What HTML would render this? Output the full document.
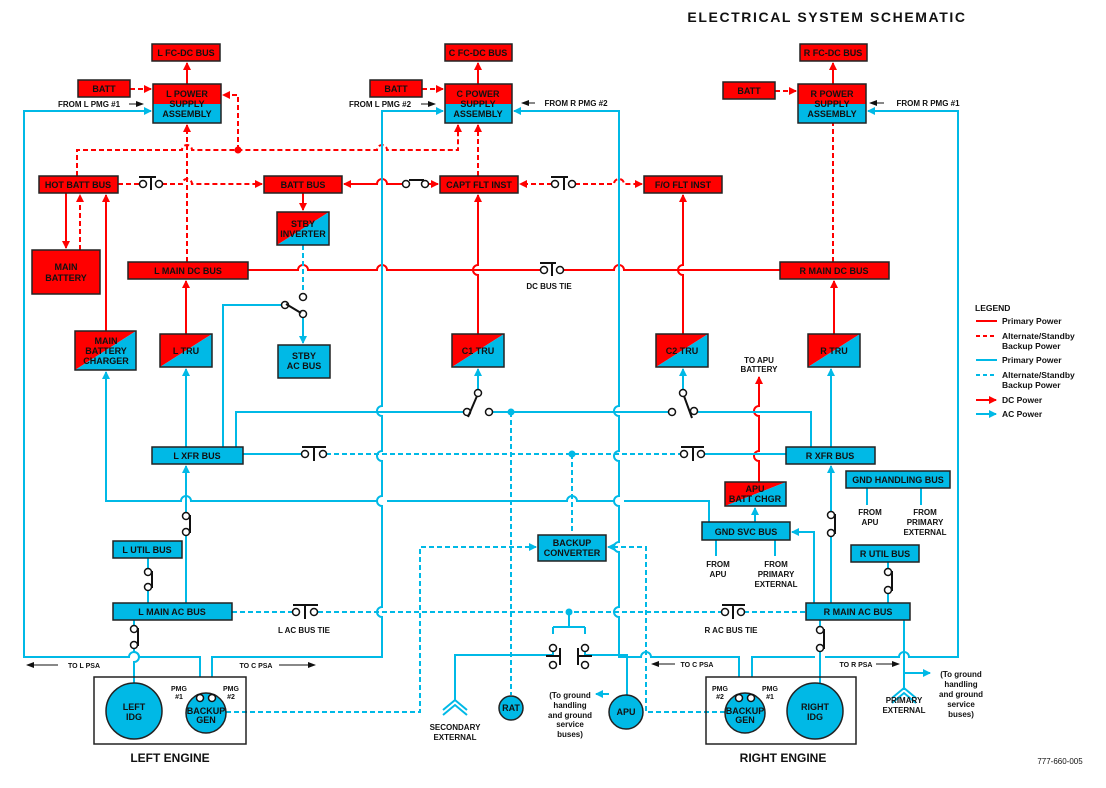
<!DOCTYPE html>
<html><head><meta charset="utf-8"><style>
html,body{margin:0;padding:0;background:#fff}
svg{display:block}
text{font-family:"Liberation Sans",Arial,sans-serif;font-weight:bold;fill:#111}
.bl{font-size:9px;text-anchor:middle}
.sm{font-size:8px;text-anchor:middle}
.r{stroke:#ff0000;stroke-width:2;fill:none}
.rd{stroke:#ff0000;stroke-width:2;fill:none;stroke-dasharray:5,3}
.b{stroke:#00b9e6;stroke-width:2;fill:none}
.bd{stroke:#00b9e6;stroke-width:2;fill:none;stroke-dasharray:5,3}
.sw{stroke:#111;stroke-width:1.5;fill:#fff}
.swl{stroke:#111;stroke-width:2;fill:none}
.rb{fill:#ff0000;stroke:#222;stroke-width:1.5}
.bb{fill:#00b9e6;stroke:#222;stroke-width:1.5}
</style></head><body>
<svg width="1106" height="788" viewBox="0 0 1106 788" xmlns="http://www.w3.org/2000/svg">
<defs>
<marker id="ar" markerWidth="8" markerHeight="8" refX="7" refY="4" orient="auto" markerUnits="userSpaceOnUse"><path d="M0,0 L8,4 L0,8 z" fill="#ff0000"/></marker>
<marker id="ab" markerWidth="8" markerHeight="8" refX="7" refY="4" orient="auto" markerUnits="userSpaceOnUse"><path d="M0,0 L8,4 L0,8 z" fill="#00b9e6"/></marker>
<marker id="ak" markerWidth="8" markerHeight="6" refX="7" refY="3" orient="auto" markerUnits="userSpaceOnUse"><path d="M0,0 L8,3 L0,6 z" fill="#111"/></marker>
</defs>

<text x="827" y="22" style="font-size:14px;text-anchor:middle;letter-spacing:1.6px">ELECTRICAL SYSTEM SCHEMATIC</text>

<!-- ===== RED LINES ===== -->
<line class="r" x1="187" y1="84" x2="187" y2="63" marker-end="url(#ar)"/>
<line class="r" x1="478" y1="84" x2="478" y2="63" marker-end="url(#ar)"/>
<line class="r" x1="833" y1="84" x2="833" y2="63" marker-end="url(#ar)"/>
<line class="rd" x1="130" y1="89" x2="151" y2="89" marker-end="url(#ar)"/>
<line class="rd" x1="422" y1="89" x2="443" y2="89" marker-end="url(#ar)"/>
<line class="rd" x1="775" y1="91" x2="796" y2="91" marker-end="url(#ar)"/>
<line class="rd" x1="187" y1="262" x2="187" y2="125" marker-end="url(#ar)"/>
<path class="rd" d="M77,176 V150 H182 A5,5 0 0 1 192,150 H377 A5,5 0 0 1 387,150 H458 V125" marker-end="url(#ar)"/>
<circle cx="238" cy="150" r="3.5" fill="#ff0000"/>
<path class="rd" d="M238,150 V95 H223" marker-end="url(#ar)"/>
<line class="r" x1="66" y1="193" x2="66" y2="248" marker-end="url(#ar)"/>
<line class="rd" x1="80" y1="250" x2="80" y2="195" marker-end="url(#ar)"/>
<line class="r" x1="106" y1="331" x2="106" y2="195" marker-end="url(#ar)"/>
<path class="rd" d="M118,184 H140 M162,184 H182 A5,5 0 0 1 192,184 H262" marker-end="url(#ar)"/>
<path class="r" d="M344,184 H377 A5,5 0 0 1 387,184 H403"/>
<line class="r" x1="360" y1="184" x2="344" y2="184" marker-end="url(#ar)"/>
<line class="r" x1="428" y1="184" x2="438" y2="184" marker-end="url(#ar)"/>
<path class="swl" d="M409,180 H424"/>
<line class="rd" x1="552" y1="184" x2="520" y2="184" marker-end="url(#ar)"/>
<path class="rd" d="M575,184 H614 A5,5 0 0 1 624,184 H642" marker-end="url(#ar)"/>
<line class="r" x1="303" y1="193" x2="303" y2="210" marker-end="url(#ar)"/>
<line class="rd" x1="478" y1="176" x2="478" y2="125" marker-end="url(#ar)"/>
<path class="r" d="M478,334 V275 A5,5 0 0 1 478,265 V195" marker-end="url(#ar)"/>
<path class="r" d="M683,334 V275 A5,5 0 0 1 683,265 V195" marker-end="url(#ar)"/>
<path class="r" d="M248,270 H298 A5,5 0 0 1 308,270 H377 A5,5 0 0 1 387,270 H541 M559,270 H614 A5,5 0 0 1 624,270 H780"/>
<line class="r" x1="186" y1="334" x2="186" y2="281" marker-end="url(#ar)"/>
<line class="r" x1="834" y1="334" x2="834" y2="281" marker-end="url(#ar)"/>
<line class="rd" x1="833" y1="262" x2="833" y2="123"/>
<path class="r" d="M759,482 V461 A5,5 0 0 1 759,451 V416 A5,5 0 0 1 759,406 V377" marker-end="url(#ar)"/>

<!-- ===== BLUE LINES ===== -->
<path class="b" d="M200,677 V657 H139 A5,5 0 0 0 129,657 H24 V111 H151" marker-end="url(#ab)"/>
<path class="b" d="M212,677 V657 H382 V617 A5,5 0 0 1 382,607 V506 A5,5 0 0 1 382,496 V461 A5,5 0 0 1 382,451 V416 A5,5 0 0 1 382,406 V111 H443" marker-end="url(#ab)"/>
<path class="b" d="M739,677 V657 H651 A5,5 0 0 0 641,657 H619 V617 A5,5 0 0 1 619,607 V552 A5,5 0 0 1 619,542 V506 A5,5 0 0 1 619,496 V461 A5,5 0 0 1 619,451 V416 A5,5 0 0 1 619,406 V111 H514" marker-end="url(#ab)"/>
<path class="b" d="M752,677 V657 H815 M825,657 H899 A5,5 0 0 1 909,657 H958 V111 H868" marker-end="url(#ab)"/>
<line class="b" x1="186" y1="447" x2="186" y2="369" marker-end="url(#ab)"/>
<path class="b" d="M709,522 V501 H624 M614,501 H577 A5,5 0 0 0 567,501 H387 M377,501 H191 A5,5 0 0 0 181,501 H106 V372" marker-end="url(#ab)"/>
<path class="b" d="M223,447 V305 H285"/>
<line class="b" x1="303" y1="316" x2="303" y2="343" marker-end="url(#ab)"/>
<line class="bd" x1="303" y1="245" x2="303" y2="294"/>
<path class="b" d="M236,447 V412 H466 M490,412 H672 M695,412 H811 V447"/>
<circle cx="511" cy="412" r="3.5" fill="#00b9e6"/>
<line class="b" x1="478" y1="390" x2="478" y2="369" marker-end="url(#ab)"/>
<line class="b" x1="683" y1="390" x2="683" y2="369" marker-end="url(#ab)"/>
<line class="b" x1="831" y1="447" x2="831" y2="369" marker-end="url(#ab)"/>
<path class="b" d="M243,454 H302"/>
<path class="bd" d="M326,454 H681"/>
<path class="b" d="M703,454 H786"/>
<circle cx="572" cy="454" r="3.5" fill="#00b9e6"/>
<line class="bd" x1="511" y1="412" x2="511" y2="695"/>
<line class="bd" x1="572" y1="454" x2="572" y2="534"/>
<path class="b" d="M186,603 V530 M186,513 V466" marker-end="url(#ab)"/>
<path class="b" d="M148,558 V569 M148,587 V603"/>
<path class="b" d="M134,620 V627 M134,645 V652 A5,5 0 0 1 134,662 V683"/>
<path class="bd" d="M232,612 H293 M318,612 H722 M744,612 H806"/>
<circle cx="569" cy="612" r="3.5" fill="#00b9e6"/>
<path class="b" d="M569,612 V627 M553,627 H585 M553,627 V634 M585,627 V634"/>
<path class="b" d="M553,652 V655 H455 V700"/>
<path class="b" d="M585,652 V655 H627 V695"/>
<line class="b" x1="609" y1="694" x2="596" y2="694" marker-end="url(#ab)"/>
<path class="bd" d="M226,712 H420 V547 H536" marker-end="url(#ab)"/>
<path class="bd" d="M725,712 H646 V547 H608" marker-end="url(#ab)"/>
<path class="b" d="M831,603 V530 M831,513 V466" marker-end="url(#ab)"/>
<path class="b" d="M814,603 V532 H792" marker-end="url(#ab)"/>
<path class="b" d="M888,562 V569 M888,587 V603"/>
<path class="b" d="M820,620 V627 M820,645 V683"/>
<line class="b" x1="755" y1="522" x2="755" y2="508" marker-end="url(#ab)"/>
<path class="b" d="M716,540 V556 M775,540 V556 M867,488 V505 M921,488 V505"/>
<path class="b" d="M904,620 V690"/>
<line class="b" x1="904" y1="673" x2="930" y2="673" marker-end="url(#ab)"/>
<path class="b" d="M892,698 L904,688 L916,698 M892,703 L904,693 L916,703"/>
<path class="b" d="M443,710 L455,700 L467,710 M443,715 L455,705 L467,715"/>

<g>
<circle class="sw" cx="143" cy="184" r="3.5"/><circle class="sw" cx="159" cy="184" r="3.5"/><path class="swl" d="M139,177 H156 M151,177 V190"/>
<circle class="sw" cx="406" cy="184" r="3.5"/><circle class="sw" cx="425" cy="184" r="3.5"/>
<circle class="sw" cx="555" cy="184" r="3.5"/><circle class="sw" cx="572" cy="184" r="3.5"/><path class="swl" d="M551,177 H568 M564,177 V190"/>
<circle class="sw" cx="544" cy="270" r="3.5"/><circle class="sw" cx="560" cy="270" r="3.5"/><path class="swl" d="M540,263 H556 M552,263 V276"/>
<circle class="sw" cx="303" cy="297" r="3.5"/><circle class="sw" cx="285" cy="305" r="3.5"/><circle class="sw" cx="303" cy="314" r="3.5"/><path class="swl" d="M286,304 L301,313"/>
<circle class="sw" cx="478" cy="393" r="3.5"/><circle class="sw" cx="467" cy="412" r="3.5"/><circle class="sw" cx="489" cy="412" r="3.5"/><path class="swl" d="M468,417 L477,396"/>
<circle class="sw" cx="683" cy="393" r="3.5"/><circle class="sw" cx="672" cy="412" r="3.5"/><circle class="sw" cx="694" cy="411" r="3.5"/><path class="swl" d="M684,396 L692,418"/>
<circle class="sw" cx="305" cy="454" r="3.5"/><circle class="sw" cx="323" cy="454" r="3.5"/><path class="swl" d="M302,447 H326 M314,447 V461"/>
<circle class="sw" cx="684" cy="454" r="3.5"/><circle class="sw" cx="701" cy="454" r="3.5"/><path class="swl" d="M681,447 H704 M693,447 V461"/>
<circle class="sw" cx="186" cy="516" r="3.5"/><circle class="sw" cx="186" cy="532" r="3.5"/><path class="swl" d="M190,515 V533"/>
<circle class="sw" cx="148" cy="572" r="3.5"/><circle class="sw" cx="148" cy="587" r="3.5"/><path class="swl" d="M152,571 V588"/>
<circle class="sw" cx="134" cy="629" r="3.5"/><circle class="sw" cx="134" cy="645" r="3.5"/><path class="swl" d="M138,628 V646"/>
<circle class="sw" cx="296" cy="612" r="3.5"/><circle class="sw" cx="314" cy="612" r="3.5"/><path class="swl" d="M293,605 H318 M305,605 V619"/>
<circle class="sw" cx="725" cy="612" r="3.5"/><circle class="sw" cx="741" cy="612" r="3.5"/><path class="swl" d="M722,605 H745 M733,605 V619"/>
<circle class="sw" cx="553" cy="648" r="3.5"/><circle class="sw" cx="553" cy="665" r="3.5"/><path class="swl" d="M546,656 H560 M560,648 V665"/>
<circle class="sw" cx="585" cy="648" r="3.5"/><circle class="sw" cx="585" cy="665" r="3.5"/><path class="swl" d="M578,648 V665 M578,656 H592"/>
<circle class="sw" cx="831" cy="515" r="3.5"/><circle class="sw" cx="831" cy="533" r="3.5"/><path class="swl" d="M835,514 V534"/>
<circle class="sw" cx="888" cy="572" r="3.5"/><circle class="sw" cx="888" cy="590" r="3.5"/><path class="swl" d="M892,571 V591"/>
<circle class="sw" cx="820" cy="630" r="3.5"/><circle class="sw" cx="820" cy="648" r="3.5"/><path class="swl" d="M824,629 V649"/>
</g>

<rect class="rb" x="152" y="44" width="68" height="17"/><text class="bl" x="186" y="56">L FC-DC BUS</text>
<rect class="rb" x="445" y="44" width="67" height="17"/><text class="bl" x="478" y="56">C FC-DC BUS</text>
<rect class="rb" x="800" y="44" width="67" height="17"/><text class="bl" x="833" y="56">R FC-DC BUS</text>
<rect class="rb" x="78" y="80" width="52" height="17"/><text class="bl" x="104" y="92">BATT</text>
<rect class="rb" x="370" y="80" width="52" height="17"/><text class="bl" x="396" y="92">BATT</text>
<rect class="rb" x="723" y="82" width="52" height="17"/><text class="bl" x="749" y="94">BATT</text>
<g>
<rect x="153" y="84" width="68" height="20" fill="#ff0000"/><rect x="153" y="104" width="68" height="19" fill="#00b9e6"/><rect x="153" y="84" width="68" height="39" fill="none" stroke="#222" stroke-width="1.5"/>
<text class="bl" x="187" y="97">L POWER</text><text class="bl" x="187" y="107">SUPPLY</text><text class="bl" x="187" y="117">ASSEMBLY</text>
<rect x="445" y="84" width="67" height="20" fill="#ff0000"/><rect x="445" y="104" width="67" height="19" fill="#00b9e6"/><rect x="445" y="84" width="67" height="39" fill="none" stroke="#222" stroke-width="1.5"/>
<text class="bl" x="478" y="97">C POWER</text><text class="bl" x="478" y="107">SUPPLY</text><text class="bl" x="478" y="117">ASSEMBLY</text>
<rect x="798" y="84" width="68" height="20" fill="#ff0000"/><rect x="798" y="104" width="68" height="19" fill="#00b9e6"/><rect x="798" y="84" width="68" height="39" fill="none" stroke="#222" stroke-width="1.5"/>
<text class="bl" x="832" y="97">R POWER</text><text class="bl" x="832" y="107">SUPPLY</text><text class="bl" x="832" y="117">ASSEMBLY</text>
</g>
<text class="sm" x="89" y="107">FROM L PMG #1</text><line x1="129" y1="104" x2="143" y2="104" stroke="#111" stroke-width="1" marker-end="url(#ak)"/>
<text class="sm" x="380" y="107">FROM L PMG #2</text><line x1="421" y1="104" x2="435" y2="104" stroke="#111" stroke-width="1" marker-end="url(#ak)"/>
<line x1="535" y1="103" x2="522" y2="103" stroke="#111" stroke-width="1" marker-end="url(#ak)"/><text class="sm" x="576" y="106">FROM R PMG #2</text>
<line x1="884" y1="103" x2="870" y2="103" stroke="#111" stroke-width="1" marker-end="url(#ak)"/><text class="sm" x="928" y="106">FROM R PMG #1</text>

<rect class="rb" x="39" y="176" width="79" height="17"/><text class="bl" x="78" y="188">HOT BATT BUS</text>
<rect class="rb" x="264" y="176" width="78" height="17"/><text class="bl" x="303" y="188">BATT BUS</text>
<rect class="rb" x="440" y="176" width="78" height="17"/><text class="bl" x="479" y="188">CAPT FLT INST</text>
<rect class="rb" x="644" y="176" width="78" height="17"/><text class="bl" x="683" y="188">F/O  FLT INST</text>
<rect class="rb" x="32" y="250" width="68" height="44"/><text class="bl" x="66" y="270">MAIN</text><text class="bl" x="66" y="281">BATTERY</text>
<rect class="rb" x="128" y="262" width="120" height="17"/><text class="bl" x="188" y="274">L MAIN DC BUS</text>
<rect class="rb" x="780" y="262" width="109" height="17"/><text class="bl" x="834" y="274">R MAIN DC BUS</text>
<text class="sm" x="549" y="289">DC BUS TIE</text>

<g>
<polygon points="277,212 329,212 277,245" fill="#ff0000"/><polygon points="329,212 329,245 277,245" fill="#00b9e6"/><rect x="277" y="212" width="52" height="33" fill="none" stroke="#222" stroke-width="1.5"/>
<text class="bl" x="303" y="227">STBY</text><text class="bl" x="303" y="237">INVERTER</text>
<polygon points="75,331 136,331 75,370" fill="#ff0000"/><polygon points="136,331 136,370 75,370" fill="#00b9e6"/><rect x="75" y="331" width="61" height="39" fill="none" stroke="#222" stroke-width="1.5"/>
<text class="bl" x="106" y="344">MAIN</text><text class="bl" x="106" y="354">BATTERY</text><text class="bl" x="106" y="364">CHARGER</text>
<polygon points="160,334 212,334 160,367" fill="#ff0000"/><polygon points="212,334 212,367 160,367" fill="#00b9e6"/><rect x="160" y="334" width="52" height="33" fill="none" stroke="#222" stroke-width="1.5"/><text class="bl" x="186" y="354">L TRU</text>
<polygon points="452,334 504,334 452,367" fill="#ff0000"/><polygon points="504,334 504,367 452,367" fill="#00b9e6"/><rect x="452" y="334" width="52" height="33" fill="none" stroke="#222" stroke-width="1.5"/><text class="bl" x="478" y="354">C1 TRU</text>
<polygon points="656,334 708,334 656,367" fill="#ff0000"/><polygon points="708,334 708,367 656,367" fill="#00b9e6"/><rect x="656" y="334" width="52" height="33" fill="none" stroke="#222" stroke-width="1.5"/><text class="bl" x="682" y="354">C2 TRU</text>
<polygon points="808,334 860,334 808,367" fill="#ff0000"/><polygon points="860,334 860,367 808,367" fill="#00b9e6"/><rect x="808" y="334" width="52" height="33" fill="none" stroke="#222" stroke-width="1.5"/><text class="bl" x="834" y="354">R TRU</text>
<polygon points="725,482 786,482 725,506" fill="#ff0000"/><polygon points="786,482 786,506 725,506" fill="#00b9e6"/><rect x="725" y="482" width="61" height="24" fill="none" stroke="#222" stroke-width="1.5"/>
<text class="bl" x="755" y="492">APU</text><text class="bl" x="755" y="502">BATT CHGR</text>
</g>
<rect class="bb" x="278" y="345" width="52" height="33"/><text class="bl" x="304" y="359">STBY</text><text class="bl" x="304" y="369">AC BUS</text>
<text class="sm" x="759" y="363">TO APU</text><text class="sm" x="759" y="372">BATTERY</text>

<rect class="bb" x="152" y="447" width="91" height="17"/><text class="bl" x="197" y="459">L XFR BUS</text>
<rect class="bb" x="786" y="447" width="89" height="17"/><text class="bl" x="830" y="459">R XFR BUS</text>
<rect class="bb" x="846" y="471" width="104" height="17"/><text class="bl" x="898" y="483">GND HANDLING BUS</text>
<rect class="bb" x="702" y="522" width="88" height="18"/><text class="bl" x="746" y="535">GND SVC BUS</text>
<rect class="bb" x="538" y="535" width="68" height="26"/><text class="bl" x="572" y="546">BACKUP</text><text class="bl" x="572" y="556">CONVERTER</text>
<rect class="bb" x="113" y="541" width="69" height="17"/><text class="bl" x="147" y="553">L UTIL BUS</text>
<rect class="bb" x="851" y="545" width="68" height="17"/><text class="bl" x="885" y="557">R UTIL BUS</text>
<rect class="bb" x="113" y="603" width="119" height="17"/><text class="bl" x="172" y="615">L MAIN AC BUS</text>
<rect class="bb" x="806" y="603" width="104" height="17"/><text class="bl" x="858" y="615">R MAIN AC BUS</text>

<text class="sm" x="870" y="515">FROM</text><text class="sm" x="870" y="525">APU</text>
<text class="sm" x="925" y="515">FROM</text><text class="sm" x="925" y="525">PRIMARY</text><text class="sm" x="925" y="535">EXTERNAL</text>
<text class="sm" x="718" y="567">FROM</text><text class="sm" x="718" y="577">APU</text>
<text class="sm" x="776" y="567">FROM</text><text class="sm" x="776" y="577">PRIMARY</text><text class="sm" x="776" y="587">EXTERNAL</text>
<text class="sm" x="304" y="633">L AC BUS TIE</text>
<text class="sm" x="731" y="633">R AC BUS TIE</text>

<line x1="58" y1="665" x2="27" y2="665" stroke="#111" stroke-width="1" marker-end="url(#ak)"/><text class="sm" x="84" y="668" style="font-size:7px">TO L PSA</text>
<text class="sm" x="256" y="668" style="font-size:7px">TO C PSA</text><line x1="279" y1="665" x2="315" y2="665" stroke="#111" stroke-width="1" marker-end="url(#ak)"/>
<line x1="675" y1="664" x2="652" y2="664" stroke="#111" stroke-width="1" marker-end="url(#ak)"/><text class="sm" x="697" y="667" style="font-size:7px">TO C PSA</text>
<text class="sm" x="856" y="667" style="font-size:7px">TO R PSA</text><line x1="876" y1="664" x2="899" y2="664" stroke="#111" stroke-width="1" marker-end="url(#ak)"/>

<rect x="94" y="677" width="152" height="67" fill="none" stroke="#222" stroke-width="1.5"/>
<circle cx="134" cy="711" r="28" fill="#00b9e6" stroke="#222" stroke-width="1.5"/><text class="bl" x="134" y="710">LEFT</text><text class="bl" x="134" y="720">IDG</text>
<circle cx="206" cy="713" r="20" fill="#00b9e6" stroke="#222" stroke-width="1.5"/>
<circle cx="200" cy="698" r="3.5" class="sw"/><circle cx="212" cy="698" r="3.5" class="sw"/>
<text class="bl" x="206" y="714">BACKUP</text><text class="bl" x="206" y="723">GEN</text>
<text class="sm" x="179" y="691" style="font-size:7px">PMG</text><text class="sm" x="179" y="699" style="font-size:7px">#1</text>
<text class="sm" x="231" y="691" style="font-size:7px">PMG</text><text class="sm" x="231" y="699" style="font-size:7px">#2</text>
<text x="170" y="762" style="font-size:12px;text-anchor:middle">LEFT ENGINE</text>

<rect x="706" y="677" width="150" height="67" fill="none" stroke="#222" stroke-width="1.5"/>
<circle cx="745" cy="713" r="20" fill="#00b9e6" stroke="#222" stroke-width="1.5"/>
<circle cx="739" cy="698" r="3.5" class="sw"/><circle cx="751" cy="698" r="3.5" class="sw"/>
<text class="bl" x="745" y="714">BACKUP</text><text class="bl" x="745" y="723">GEN</text>
<circle cx="815" cy="711" r="28" fill="#00b9e6" stroke="#222" stroke-width="1.5"/><text class="bl" x="815" y="710">RIGHT</text><text class="bl" x="815" y="720">IDG</text>
<text class="sm" x="720" y="691" style="font-size:7px">PMG</text><text class="sm" x="720" y="699" style="font-size:7px">#2</text>
<text class="sm" x="770" y="691" style="font-size:7px">PMG</text><text class="sm" x="770" y="699" style="font-size:7px">#1</text>
<text x="783" y="762" style="font-size:12px;text-anchor:middle">RIGHT ENGINE</text>

<circle cx="511" cy="708" r="12" fill="#00b9e6" stroke="#222" stroke-width="1.5"/><text class="bl" x="511" y="711">RAT</text>
<circle cx="626" cy="712" r="17" fill="#00b9e6" stroke="#222" stroke-width="1.5"/><text class="bl" x="626" y="715">APU</text>
<text class="sm" x="455" y="730">SECONDARY</text><text class="sm" x="455" y="740">EXTERNAL</text>
<text class="sm" x="570" y="698">(To ground</text><text class="sm" x="570" y="708">handling</text><text class="sm" x="570" y="718">and ground</text><text class="sm" x="570" y="727">service</text><text class="sm" x="570" y="737">buses)</text>
<text class="sm" x="904" y="703">PRIMARY</text><text class="sm" x="904" y="713">EXTERNAL</text>
<text class="sm" x="961" y="677">(To ground</text><text class="sm" x="961" y="687">handling</text><text class="sm" x="961" y="697">and ground</text><text class="sm" x="961" y="707">service</text><text class="sm" x="961" y="717">buses)</text>

<text x="975" y="311" style="font-size:8.5px">LEGEND</text>
<line x1="976" y1="321" x2="997" y2="321" stroke="#ff0000" stroke-width="2"/><text x="1002" y="324" style="font-size:8.5px">Primary Power</text>
<line x1="976" y1="336" x2="997" y2="336" stroke="#ff0000" stroke-width="2" stroke-dasharray="4,3"/><text x="1002" y="339" style="font-size:8.5px">Alternate/Standby</text><text x="1002" y="349" style="font-size:8.5px">Backup Power</text>
<line x1="976" y1="360" x2="997" y2="360" stroke="#00b9e6" stroke-width="2"/><text x="1002" y="363" style="font-size:8.5px">Primary Power</text>
<line x1="976" y1="375" x2="997" y2="375" stroke="#00b9e6" stroke-width="2" stroke-dasharray="4,3"/><text x="1002" y="378" style="font-size:8.5px">Alternate/Standby</text><text x="1002" y="388" style="font-size:8.5px">Backup Power</text>
<line x1="976" y1="400" x2="996" y2="400" stroke="#ff0000" stroke-width="2" marker-end="url(#ar)"/><text x="1002" y="403" style="font-size:8.5px">DC Power</text>
<line x1="976" y1="414" x2="996" y2="414" stroke="#00b9e6" stroke-width="2" marker-end="url(#ab)"/><text x="1002" y="417" style="font-size:8.5px">AC Power</text>

<text x="1060" y="764" style="font-size:8px;font-weight:normal;text-anchor:middle">777-660-005</text>
</svg>
</body></html>
